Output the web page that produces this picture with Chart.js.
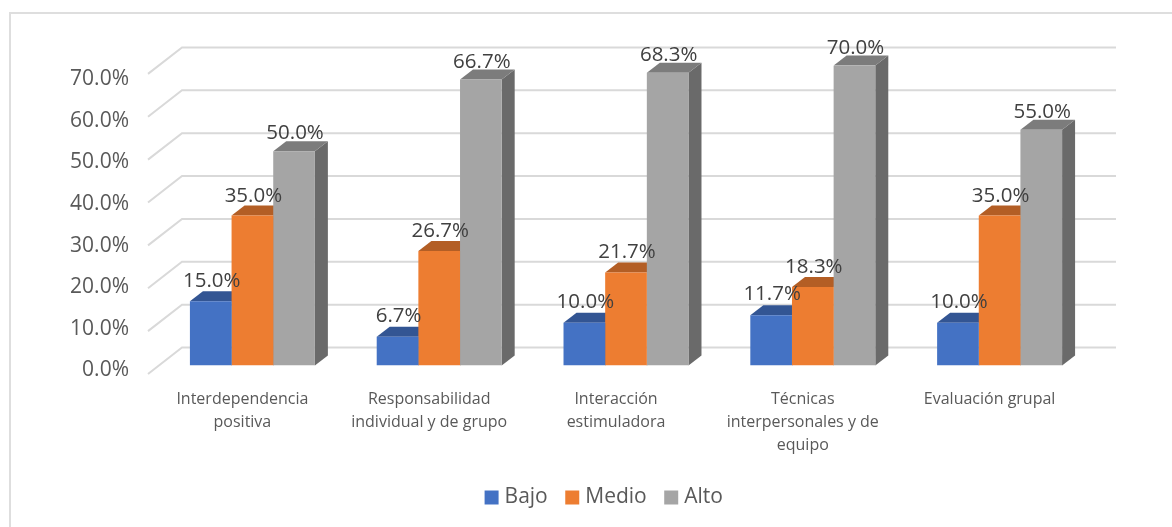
<!DOCTYPE html>
<html>
<head>
<meta charset="utf-8">
<script src="https://cdn.jsdelivr.net/npm/chart.js@4"></script>
<style>
    html, body { margin: 0; padding: 0; background: #fff; }
    #wrap { position: relative; width: 1172px; height: 527px; overflow: hidden; }
    #frame { position: absolute; left: 9px; top: 12px; width: 1163px; height: 515px; border-left: 2px solid #dedede; border-top: 2px solid #dedede; box-sizing: border-box; }
    canvas { position: absolute; left: 0; top: 0; }
</style>
</head>
<body>
<div id="wrap">
    <div id="frame"></div>
    <canvas id="chart" width="1172" height="527"></canvas>
</div>
<script>
    const categories = [
        ['Interdependencia', 'positiva'],
        ['Responsabilidad', 'individual y de grupo'],
        ['Interacción', 'estimuladora'],
        ['Técnicas', 'interpersonales y de', 'equipo'],
        ['Evaluación grupal']
    ];
    const bajo = [15.0, 6.7, 10.0, 11.7, 10.0];
    const medio = [35.0, 26.7, 21.7, 18.3, 35.0];
    const alto = [50.0, 66.7, 68.3, 70.0, 55.0];

    const frontColors = ['#4472c4', '#ed7d31', '#a5a5a5'];
    const topColors = ['#335593', '#b35e25', '#7c7c7c'];
    const sideColors = ['#2c4a80', '#9c5220', '#6a6a6a'];

    // Excel style depth of the bars and of the walls
    const barDepth = { x: 13, y: 10 };
    const wallBack = { x: 23, y: 18 };
    const wallFront = { x: 11, y: 8.5 };

    const fontName = '"Open Sans", "Noto Sans", sans-serif';

    const wallsAndDepth = {
        id: 'wallsAndDepth',
        beforeDatasetsDraw(chart) {
            const ctx = chart.ctx;
            const area = chart.chartArea;
            const yScale = chart.scales.y;

            ctx.save();
            ctx.strokeStyle = '#d9d9d9';
            ctx.lineWidth = 2;
            yScale.ticks.forEach(function(tick) {
                const y = yScale.getPixelForValue(tick.value);
                ctx.beginPath();
                ctx.moveTo(area.left - wallFront.x, y + wallFront.y);
                ctx.lineTo(area.left + wallBack.x, y - wallBack.y);
                ctx.lineTo(area.right + wallBack.x, y - wallBack.y);
                ctx.stroke();
            });

            // top and right faces go under the front faces of the next bars
            chart.data.datasets.forEach(function(ds, i) {
                chart.getDatasetMeta(i).data.forEach(function(bar) {
                    const left = bar.x - bar.width / 2;
                    const right = bar.x + bar.width / 2;

                    ctx.fillStyle = sideColors[i];
                    ctx.beginPath();
                    ctx.moveTo(right, bar.y);
                    ctx.lineTo(right + barDepth.x, bar.y - barDepth.y);
                    ctx.lineTo(right + barDepth.x, bar.base - barDepth.y);
                    ctx.lineTo(right, bar.base);
                    ctx.closePath();
                    ctx.fill();

                    ctx.fillStyle = topColors[i];
                    ctx.beginPath();
                    ctx.moveTo(left, bar.y);
                    ctx.lineTo(left + barDepth.x, bar.y - barDepth.y);
                    ctx.lineTo(right + barDepth.x, bar.y - barDepth.y);
                    ctx.lineTo(right, bar.y);
                    ctx.closePath();
                    ctx.fill();
                });
            });
            ctx.restore();
        },
        afterDatasetsDraw(chart) {
            const ctx = chart.ctx;
            ctx.save();
            ctx.fillStyle = '#404040';
            ctx.font = '20.5px ' + fontName;
            ctx.textAlign = 'center';
            ctx.textBaseline = 'middle';
            chart.data.datasets.forEach(function(ds, i) {
                chart.getDatasetMeta(i).data.forEach(function(bar, j) {
                    // labels sit a bit closer to the taller bars in the original
                    const lift = 21.5 - (bar.base - bar.y) * 0.015;
                    ctx.fillText(ds.data[j].toFixed(1) + '%', bar.x + 1, bar.y - lift);
                });
            });
            ctx.restore();
        }
    };

    new Chart(document.getElementById('chart'), {
        type: 'bar',
        data: {
            labels: categories,
            datasets: [
                { label: 'Bajo', data: bajo, backgroundColor: frontColors[0], pointStyle: 'rect' },
                { label: 'Medio', data: medio, backgroundColor: frontColors[1], pointStyle: 'rect' },
                { label: 'Alto', data: alto, backgroundColor: frontColors[2], pointStyle: 'rect' }
            ]
        },
        options: {
            responsive: false,
            animation: false,
            categoryPercentage: 0.669,
            barPercentage: 1,
            layout: {
                autoPadding: false,
                padding: { left: 40, right: 0, top: 65.4, bottom: 9 }
            },
            scales: {
                x: {
                    grid: { display: false },
                    border: { display: false },
                    afterFit(scale) { scale.height = 99.5; },
                    ticks: {
                        autoSkip: false,
                        maxRotation: 0,
                        padding: 14,
                        labelOffset: -10,
                        color: '#595959',
                        font: { family: fontName, size: 16, lineHeight: 1.44 }
                    }
                },
                y: {
                    min: 0,
                    max: 70,
                    grid: { display: false, drawTicks: false },
                    border: { display: false },
                    afterFit(scale) { scale.width = 0; },
                    ticks: { display: false, stepSize: 10 }
                },
                // the labels in the original are set a little tighter than the bars' own scale
                yLabels: {
                    position: 'left',
                    min: 0,
                    max: 72.07,
                    grid: { display: false, drawTicks: false },
                    border: { display: false },
                    afterFit(scale) { scale.width = 119; },
                    ticks: {
                        stepSize: 10,
                        includeBounds: false,
                        padding: 30,
                        labelOffset: 5,
                        color: '#595959',
                        font: { family: fontName, size: 21 },
                        callback: function(v) { return v.toFixed(1) + '%'; }
                    }
                },
                // empty axis, keeps the plot clear of the right side so the legend stays centred like the original
                yRight: {
                    position: 'right',
                    grid: { display: false },
                    border: { display: false },
                    ticks: { display: false },
                    afterFit(scale) { scale.width = 79; }
                }
            },
            plugins: {
                tooltip: { enabled: false },
                legend: {
                    position: 'bottom',
                    labels: {
                        usePointStyle: true,
                        boxWidth: 5,
                        boxHeight: 14,
                        padding: 22,
                        color: '#595959',
                        font: { family: fontName, size: 21 }
                    }
                }
            }
        },
        plugins: [wallsAndDepth]
    });
</script>
</body>
</html>
